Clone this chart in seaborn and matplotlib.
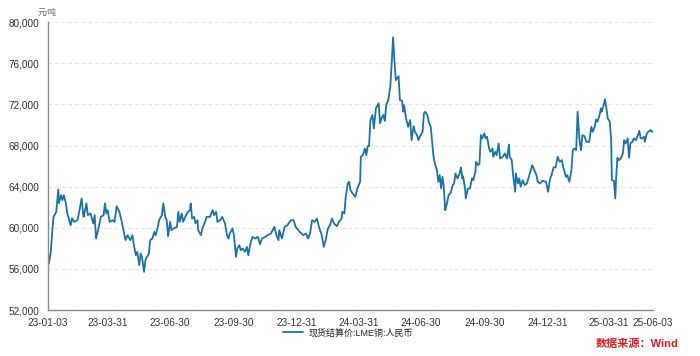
import pandas as pd
import matplotlib.pyplot as plt
import matplotlib.dates as mdates
import matplotlib.ticker as mticker
import seaborn as sns

# days since 2023-01-03
days = [0, 1, 4, 6, 8, 12, 15, 16, 19, 21, 23, 26, 28, 33, 35, 38, 43, 45, 49, 51,
        52, 56, 58, 62, 66, 68, 70, 73, 77, 81, 83, 85, 87, 90, 94, 97, 100, 104, 107, 111,
        113, 116, 120, 123, 125, 128, 130, 133, 135, 137, 140, 142, 144, 146, 147, 149, 152, 155, 157, 160,
        162, 166, 168, 171, 173, 175, 178, 180, 183, 188, 190, 192, 195, 197, 200, 204, 207, 208, 210, 213,
        215, 218, 219, 223, 225, 229, 231, 236, 240, 242, 245, 247, 251, 254, 258, 261, 263, 265, 269, 271,
        274, 276, 279, 281, 284, 287, 290, 292, 295, 298, 302, 306, 309, 312, 317, 320, 325, 330, 333, 336,
        337, 341, 345, 349, 354, 358, 361, 367, 372, 376, 379, 382, 385, 389, 392, 395, 399, 402, 405, 408,
        411, 414, 417, 421, 424, 428, 429, 432, 434, 437, 439, 441, 444, 448, 451, 455, 456, 459, 462, 464,
        466, 468, 470, 473, 475, 478, 482, 484, 487, 489, 491, 493, 496, 499, 501, 503, 505, 507, 511, 513,
        516, 518, 519, 522, 525, 528, 530, 533, 535, 538, 540, 542, 546, 548, 550, 553, 555, 558, 562, 564,
        567, 569, 571, 573, 575, 577, 579, 581, 584, 587, 590, 592, 594, 597, 600, 602, 604, 605, 608, 609,
        612, 615, 618, 620, 623, 624, 627, 629, 631, 633, 636, 638, 640, 643, 645, 648, 649, 652, 654, 657,
        659, 663, 666, 669, 672, 673, 676, 678, 681, 682, 685, 687, 689, 692, 695, 698, 701, 703, 706, 709,
        712, 714, 717, 721, 726, 729, 732, 734, 737, 740, 743, 746, 749, 751, 755, 757, 760, 763, 765, 767,
        770, 772, 775, 777, 779, 782, 785, 789, 792, 794, 797, 799, 801, 804, 806, 807, 810, 812, 814, 816,
        819, 821, 822, 825, 827, 828, 830, 832, 835, 838, 840, 842, 845, 847, 849, 852, 854, 857, 860, 862,
        864, 866, 869, 870, 873, 875, 878, 880, 882]

price = [57800, 56500, 57600, 59470, 61060, 61550, 63730, 62400, 63170, 62690, 63170, 62400, 61420, 60250, 60930, 60570, 60740, 61420, 62850, 61420,
         61060, 62370, 61230, 61390, 60420, 61230, 58960, 59770, 61060, 61230, 62370, 61390, 61710, 60570, 60740, 60570, 62100, 61550, 60740, 59450,
         58800, 59280, 58800, 59280, 58400, 57330, 57660, 56360, 57500, 57170, 55710, 56850, 57170, 57330, 57500, 58800, 58960, 59600, 59280, 60090,
         60740, 61230, 62370, 61060, 60740, 59180, 60570, 59770, 59930, 60090, 61550, 60570, 61390, 60570, 61060, 61550, 61710, 62370, 60900, 61060,
         60420, 60740, 59770, 59280, 59930, 60570, 61060, 61060, 61710, 61230, 61550, 60570, 60740, 61060, 60420, 59280, 58960, 59450, 59930, 59280,
         57170, 57990, 58310, 57820, 57990, 57660, 58140, 57330, 58470, 59120, 58960, 59120, 58400, 58960, 59120, 59280, 59450, 60090, 59280, 58800,
         59770, 58960, 60090, 60250, 60740, 60740, 60090, 59600, 59280, 59450, 58960, 59450, 60740, 60570, 60900, 60090, 59280, 58140, 58860, 59930,
         60250, 60900, 60420, 60150, 60570, 60900, 61550, 61390, 63010, 64310, 64470, 63660, 63340, 63010, 63820, 64470, 66900, 67060, 67710, 67060,
         67940, 67940, 70470, 70960, 69660, 71610, 72100, 70150, 70790, 70960, 70380, 71930, 72420, 73710, 75980, 78510, 76300, 74350, 74740, 72420,
         72350, 71280, 71930, 70630, 69820, 70470, 68520, 69880, 69330, 69010, 68520, 68850, 69330, 71120, 71280, 70960, 70310, 69800, 66900, 66250,
         65600, 64470, 65120, 63820, 64950, 63980, 61710, 62200, 63170, 63400, 64150, 64310, 65280, 64800, 65280, 65870, 64800, 65020, 63820, 62850,
         63820, 63820, 64800, 64630, 65440, 66410, 66090, 66250, 69010, 68690, 69180, 68690, 68850, 67710, 67390, 67710, 66900, 67390, 67060, 68200,
         66740, 66900, 67230, 66740, 68100, 66900, 66580, 65120, 63500, 65280, 64310, 64800, 63980, 64630, 64150, 64310, 64950, 65440, 66090, 65600,
         65120, 64470, 64310, 64570, 64470, 63500, 64800, 65120, 65870, 65870, 66900, 66410, 66580, 65930, 64950, 65120, 64470, 65600, 67550, 67710,
         67550, 71280, 68360, 67550, 69010, 68910, 68360, 68360, 69820, 69330, 69820, 70530, 70310, 70960, 71610, 71280, 71930, 72490, 71610, 70630,
         70310, 68360, 64630, 64570, 62850, 64630, 66800, 66580, 66740, 67230, 68520, 68200, 68690, 66800, 68200, 68360, 68690, 68520, 69010, 69430,
         68690, 68690, 68850, 68360, 69180, 69330, 69500, 69330, 69430]

tick_dates = ['2023-01-03', '2023-03-31', '2023-06-30', '2023-09-30', '2023-12-31',
              '2024-03-31', '2024-06-30', '2024-09-30', '2024-12-31', '2025-03-31', '2025-06-03']
y_ticks = [52000, 56000, 60000, 64000, 68000, 72000, 76000, 80000]

series_name = '现货结算价:LME铜:人民币'

df = pd.DataFrame({
    'date': pd.Timestamp('2023-01-03') + pd.to_timedelta(days, unit='D'),
    'price': price,
})

sns.set_style('white')
plt.rcParams['font.family'] = ['Liberation Sans', 'Noto Sans CJK SC', 'DejaVu Sans']

fig = plt.figure(figsize=(7, 3.56), dpi=100)
ax = fig.add_axes([0.0686, 0.129, 0.8643, 0.809])

sns.lineplot(data=df, x='date', y='price', ax=ax, color='#1c73a6', linewidth=1.3,
             label=series_name)

ax.set_xlim(pd.Timestamp(tick_dates[0]), pd.Timestamp(tick_dates[-1]))
ax.set_ylim(52000, 80000)
ax.set_xticks(pd.to_datetime(tick_dates))
ax.xaxis.set_major_formatter(mdates.DateFormatter('%y-%m-%d'))
ax.set_yticks(y_ticks)
ax.yaxis.set_major_formatter(mticker.StrMethodFormatter('{x:,.0f}'))

ax.grid(axis='y', color='#e3e3e3', linestyle=(0, (3, 3)), linewidth=0.8)
ax.grid(axis='x', visible=False)
for s in ['top', 'right']:
    ax.spines[s].set_visible(False)
for s in ['left', 'bottom']:
    ax.spines[s].set_color('#8c8c8c')
    ax.spines[s].set_linewidth(1.0)
ax.tick_params(axis='both', which='major', length=4, width=1, color='#8c8c8c',
               labelsize=7.2, labelcolor='#333333', direction='out', pad=2)
ax.set_xlabel('')
ax.set_ylabel('')

fig.text(0.054, 0.964, '元/吨', fontsize=6, color='#666666', ha='left', va='center')

ax.legend(loc='center', frameon=False, fontsize=6.5, handlelength=2.2, handletextpad=0.6)
ax.get_legend().set_bbox_to_anchor((0.497, 0.065), transform=fig.transFigure)

fig.text(0.97, 0.035, '数据来源：Wind', fontsize=8, color='#e31e24', ha='right', va='center',
         fontweight='bold')

plt.savefig('out.png', dpi=100)
